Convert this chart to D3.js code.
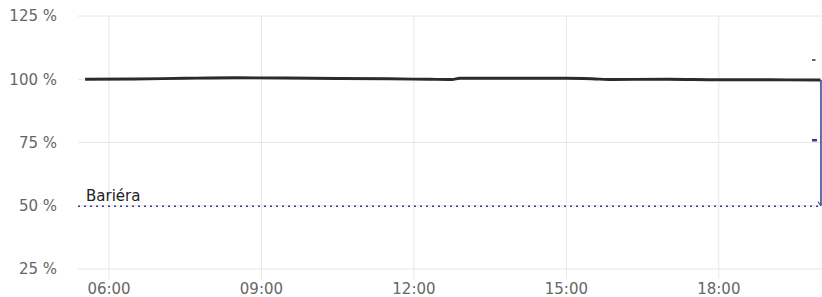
<!DOCTYPE html>
<html>
<head>
<meta charset="utf-8">
<script src="https://cdn.jsdelivr.net/npm/d3@7"></script>
<style>
  body { margin: 0; background: #fff; }
  svg { display: block; font-family: "DejaVu Sans", sans-serif; }
</style>
</head>
<body>
<svg id="chart"></svg>
<script>
var width = 822;
var height = 297;
var margin = {top: 16, right: 0, bottom: 28, left: 78};

// hours of the day (decimal) and measured value in %
var times = [5.53, 6.5, 7.5, 8.5, 9.5, 10.5, 11.5, 12.3, 12.75, 12.9, 14.0, 15.0, 15.5, 15.9, 17.0, 18.0, 19.0, 20.0];
var values = [100.0, 100.1, 100.4, 100.6, 100.5, 100.3, 100.2, 100.0, 99.9, 100.4, 100.4, 100.4, 100.2, 99.9, 100.0, 99.8, 99.8, 99.7];
var barrierValue = 50;
var barrierLabel = 'Bariéra';
var yTicks = [25, 50, 75, 100, 125];
var xTicks = [6, 9, 12, 15, 18];

var day = new Date(2024, 0, 1);
var toDate = function(h) {
  return new Date(day.getTime() + h * 3600 * 1000);
};

var svg = d3.select('#chart').attr('width', width).attr('height', height);

var x = d3.scaleTime()
  .domain([toDate(5.39), toDate(20.03)])
  .range([margin.left, width - margin.right]);
var y = d3.scaleLinear()
  .domain([25, 125])
  .range([height - margin.bottom, margin.top]);

// grid
svg.append('g').selectAll('line.hgrid').data(yTicks).enter()
  .append('line')
  .attr('x1', margin.left).attr('x2', width)
  .attr('y1', function(d) { return y(d); })
  .attr('y2', function(d) { return y(d); })
  .attr('stroke', '#e6e6e6').attr('stroke-width', 1);

svg.append('g').selectAll('line.vgrid').data(xTicks).enter()
  .append('line')
  .attr('x1', function(d) { return x(toDate(d)); })
  .attr('x2', function(d) { return x(toDate(d)); })
  .attr('y1', margin.top).attr('y2', height - margin.bottom + 10)
  .attr('stroke', '#e6e6e6').attr('stroke-width', 1);

// y labels
svg.append('g').selectAll('text').data(yTicks).enter()
  .append('text')
  .attr('x', 57)
  .attr('y', function(d) { return y(d); })
  .attr('dy', '0.35em')
  .attr('text-anchor', 'end')
  .attr('fill', '#666')
  .style('font-size', '15px')
  .text(function(d) { return d + ' %'; });

// x labels
var fmt = d3.timeFormat('%H:%M');
svg.append('g').selectAll('text').data(xTicks).enter()
  .append('text')
  .attr('x', function(d) { return x(toDate(d)); })
  .attr('y', 294)
  .attr('text-anchor', 'middle')
  .attr('fill', '#666')
  .style('font-size', '15px')
  .text(function(d) { return fmt(toDate(d)); });

// barrier
svg.append('line')
  .attr('x1', margin.left).attr('x2', width)
  .attr('y1', y(barrierValue) + 0.5).attr('y2', y(barrierValue) + 0.5)
  .attr('stroke', '#353b8f').attr('stroke-width', 1.6)
  .attr('stroke-dasharray', '2,4');

svg.append('text')
  .attr('x', margin.left + 8)
  .attr('y', y(barrierValue) - 5)
  .attr('fill', '#222')
  .style('font-size', '15px')
  .text(barrierLabel);

// drop at the end of the series down to the barrier
var last = times.length - 1;
var endX = x(toDate(times[last])) + 0.5;
svg.append('line')
  .attr('x1', endX).attr('x2', endX)
  .attr('y1', y(values[last])).attr('y2', y(barrierValue))
  .attr('stroke', '#353b8f').attr('stroke-width', 1.5);
svg.append('path')
  .attr('d', 'M' + (endX - 3) + ',' + (y(barrierValue) - 4) + 'L' + endX + ',' + y(barrierValue))
  .attr('stroke', '#353b8f').attr('stroke-width', 1.2).attr('fill', 'none');

// small clipped markers at the right edge
svg.append('rect')
  .attr('x', endX - 9).attr('y', y(107.5) - 1)
  .attr('width', 3.5).attr('height', 1.5)
  .attr('fill', '#333');
svg.append('rect')
  .attr('x', endX - 9).attr('y', y(76) - 1)
  .attr('width', 5).attr('height', 2.5)
  .attr('fill', '#353b8f');

// main series
var data = times.map(function(t, i) {
  return {time: toDate(t), value: values[i]};
});
var line = d3.line()
  .x(function(d) { return x(d.time); })
  .y(function(d) { return y(d.value); })
  .curve(d3.curveMonotoneX);

svg.append('path')
  .datum(data)
  .attr('d', line)
  .attr('fill', 'none')
  .attr('stroke', '#2b2b2e')
  .attr('stroke-width', 2.8);
</script>
</body>
</html>
